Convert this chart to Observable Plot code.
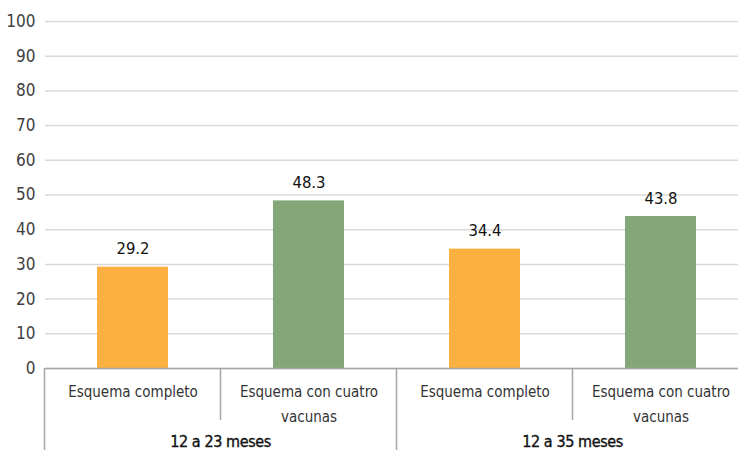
<!DOCTYPE html>
<html>
<head>
<meta charset="utf-8">
<script src="https://cdn.jsdelivr.net/npm/d3@7"></script>
<script src="https://cdn.jsdelivr.net/npm/@observablehq/plot@0.6"></script>
<style>
  html, body { margin: 0; padding: 0; background: #fff; }
  #chart svg { display: block; }
</style>
</head>
<body>
<div id="chart"></div>
<script>
const groups = ["12 a 23 meses", "12 a 23 meses", "12 a 35 meses", "12 a 35 meses"];
const schemes = ["Esquema completo", "Esquema con cuatro\nvacunas", "Esquema completo", "Esquema con cuatro\nvacunas"];
const values = [29.2, 48.3, 34.4, 43.8];
const kinds = ["completo", "cuatro", "completo", "cuatro"];
const yTicks = [0, 10, 20, 30, 40, 50, 60, 70, 80, 90, 100];
const groupNames = ["12 a 23 meses", "12 a 35 meses"];

const data = values.map((v, i) => ({
  key: groups[i] + "|" + schemes[i],
  group: groups[i],
  scheme: schemes[i],
  value: v,
  kind: kinds[i]
}));
const keys = data.map(d => d.key);

const FONT = "'DejaVu Sans Condensed', 'Liberation Sans Narrow', sans-serif";
const PAD_INNER = 0.595;

function lowerAxis() {
  return (index, scales, values, dims) => {
    const x = scales.x;
    const bw = typeof x.bandwidth === "function" ? x.bandwidth() : scales.scales.x.bandwidth;
    const centers = keys.map(k => x(k) + bw / 2);
    const step = centers[1] - centers[0];
    const y0 = dims.height - dims.marginBottom;
    const g = d3.create("svg:g");
    data.forEach((d, i) => {
      const first = i === 0 || data[i - 1].group !== d.group;
      const xl = centers[i] - step / 2;
      g.append("line")
        .attr("x1", xl).attr("x2", xl)
        .attr("y1", y0).attr("y2", first ? dims.height : y0 + 52)
        .attr("stroke", "#a6a6a6").attr("stroke-width", 1.5);
    });
    groupNames.forEach(name => {
      const cs = data.map((d, i) => d.group === name ? centers[i] : null).filter(c => c != null);
      const cx = d3.mean(cs);
      g.append("text")
        .attr("x", cx).attr("y", y0 + 74)
        .attr("text-anchor", "middle")
        .attr("dominant-baseline", "middle")
        .attr("font-family", FONT)
        .attr("font-size", 16)
        .attr("letter-spacing", "-0.4px")
        .attr("fill", "#111")
        .attr("stroke", "#111")
        .attr("stroke-width", 0.35)
        .text(name);
    });
    return g.node();
  };
}

const chart = Plot.plot({
  width: 738,
  height: 450,
  marginTop: 21,
  marginBottom: 82,
  marginLeft: 45,
  marginRight: 0,
  style: { fontFamily: FONT, background: "#fff" },
  x: { domain: keys, range: [43.5, 750.5], paddingInner: PAD_INNER, paddingOuter: PAD_INNER / 2, axis: null },
  y: { domain: [0, 100], ticks: yTicks, axis: null },
  color: { domain: ["completo", "cuatro"], range: ["#FBB040", "#84A779"] },
  marks: [
    Plot.gridY(yTicks, { stroke: "#d9d9d9", strokeOpacity: 1, strokeWidth: 1.5 }),
    Plot.axisY(yTicks, { tickSize: 0, tickPadding: 10, fontSize: 17, fill: "#404040", tickFormat: d => String(d), label: null, style: { letterSpacing: "-0.5px" } }),
    Plot.barY(data, { x: "key", y: "value", fill: "kind" }),
    Plot.ruleY([0], { stroke: "#a6a6a6", strokeWidth: 1.5 }),
    Plot.text(data, { x: "key", y: "value", text: d => d.value.toFixed(1), dy: -18, fontSize: 16.5, fill: "#111", style: { letterSpacing: "-0.4px" } }),
    Plot.text(data, { x: "key", y: 0, text: "scheme", lineAnchor: "top", dy: 11, fontSize: 15, lineHeight: 1.65, fill: "#333", style: { letterSpacing: "-0.5px" } }),
    lowerAxis()
  ]
});
document.getElementById("chart").append(chart);
</script>
</body>
</html>
